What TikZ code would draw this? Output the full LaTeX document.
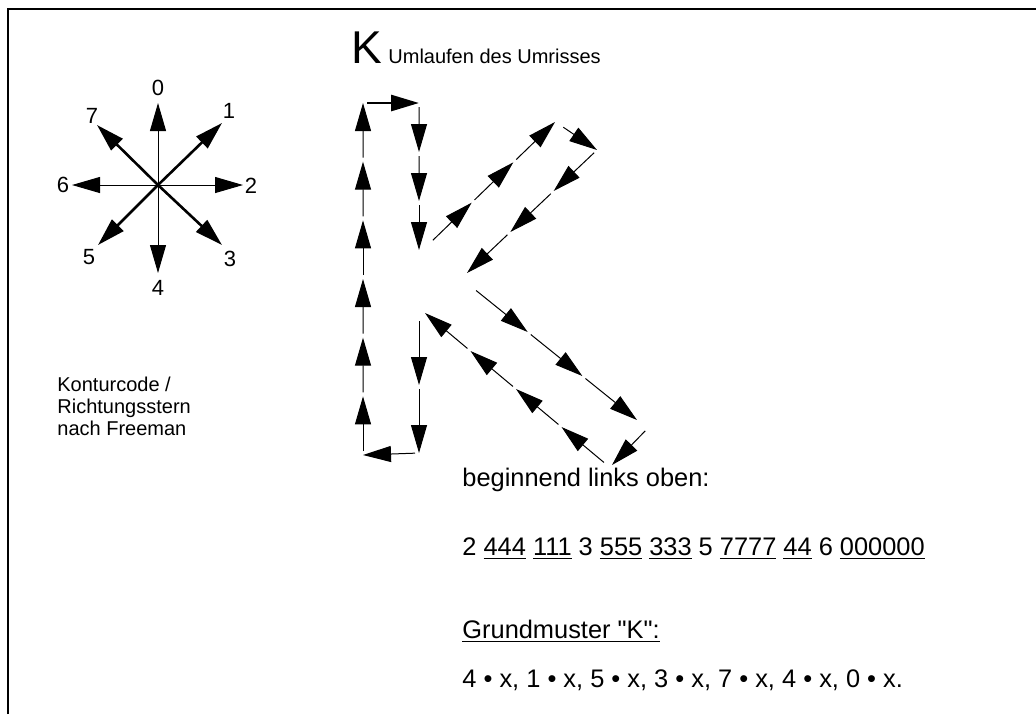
\documentclass[tikz,border=0pt]{standalone}
\usepackage{fontspec}
\setmainfont{Liberation Sans}
\usetikzlibrary{arrows.meta,calc}
% Unterstreichung knapp unter der Grundlinie
\newcommand{\unterstr}[1]{\setbox0\hbox{#1}\rlap{\rule[-2.2pt]{\wd0}{0.6pt}}#1}

\begin{document}
\begin{tikzpicture}[x=0.5pt,y=-0.5pt,
  pfeil/.style={-{Triangle[length=14pt,width=8pt]}},
  zeile/.style={anchor=base west,inner sep=0pt,font=\fontsize{12.7}{15}\selectfont},
  klein/.style={anchor=base west,inner sep=0pt,font=\fontsize{10}{12}\selectfont},
  ziffer/.style={inner sep=0pt,font=\fontsize{11}{12}\selectfont}]

  \useasboundingbox (0,0) rectangle (1036,714);
  \draw[line width=1.2pt] (8,714) -- (8,9) -- (1036,9);

  % Richtungsstern
  \coordinate (m) at (158,185);
  \foreach \r/\px/\py/\lx/\ly/\lw in {0/158/103/158/88/0.5pt, 1/222/123/229/111/1.3pt,
      2/243/185/251/186/0.5pt, 3/222/245/230/259/1.3pt, 4/158/273/158/288/0.5pt,
      5/98/245/89/257/1.3pt, 6/72/185/63/185/0.5pt, 7/97/125/92/116/1.3pt}{
    \coordinate (s\r) at (\px,\py);
    \node[ziffer] (z\r) at (\lx,\ly) {\r};
    \draw[pfeil,line width=\lw] (m) -- (s\r);
  }
  \node[klein] (kc1) at (57,391) {Konturcode /};
  \node[klein] (kc2) at (57,413) {Richtungsstern};
  \node[klein] (kc3) at (57,435) {nach Freeman};

  % Umriss des K
  \node[anchor=base west,inner sep=0pt,font=\fontsize{23}{25}\selectfont] (kbuchst) at (351,63) {K};
  \node[klein] (titel) at (388,63) {Umlaufen des Umrisses};
  \coordinate (u0) at (363,103);
  \coordinate (u1) at (419,103);
  \coordinate (u2) at (419,250);
  \coordinate (u3) at (430,243);
  \coordinate (u4) at (555,122);
  \coordinate (u5) at (560,125);
  \coordinate (u6) at (597,150);
  \coordinate (u7) at (467,273);
  \coordinate (u8) at (473,288);
  \coordinate (u9) at (637,420);
  \coordinate (u10) at (648,428);
  \coordinate (u11) at (612,465);
  \coordinate (u12) at (607,465);
  \coordinate (u13) at (425,313);
  \coordinate (u14) at (419,317);
  \coordinate (u15) at (419,453);
  \coordinate (u16) at (363,455);
  \foreach \a/\b/\n/\lw in {u0/u1/1/1.4pt, u1/u2/3/0.5pt, u3/u4/3/0.5pt, u5/u6/1/0.5pt,
      u6/u7/3/0.5pt, u8/u9/3/0.5pt, u10/u11/1/0.5pt, u12/u13/4/0.5pt,
      u14/u15/2/0.5pt, u15/u16/1/0.5pt, u16/u0/6/0.5pt}{
    \foreach \k in {1,...,\n}{
      \pgfmathsetmacro\anf{(\k-1)/\n}
      \pgfmathsetmacro\ende{\k/\n}
      \draw[pfeil,line width=\lw,shorten <=2pt] ($(\a)!\anf!(\b)$) -- ($(\a)!\ende!(\b)$);
    }
  }

  % Kettencode
  \node[zeile] (beginn) at (462,486) {beginnend links oben:};
  \node[zeile] (code) at (462,555) {2 \unterstr{444} \unterstr{111} 3 \unterstr{555} \unterstr{333} 5 \unterstr{7777} \unterstr{44} 6 \unterstr{000000}};
  \node[zeile] (grund) at (462,638) {\unterstr{Grundmuster \textquotedbl K\textquotedbl:}};
  \node[zeile] (muster) at (462,687) {4 • x, 1 • x, 5 • x, 3 • x, 7 • x, 4 • x, 0 • x.};
\end{tikzpicture}
\end{document}
